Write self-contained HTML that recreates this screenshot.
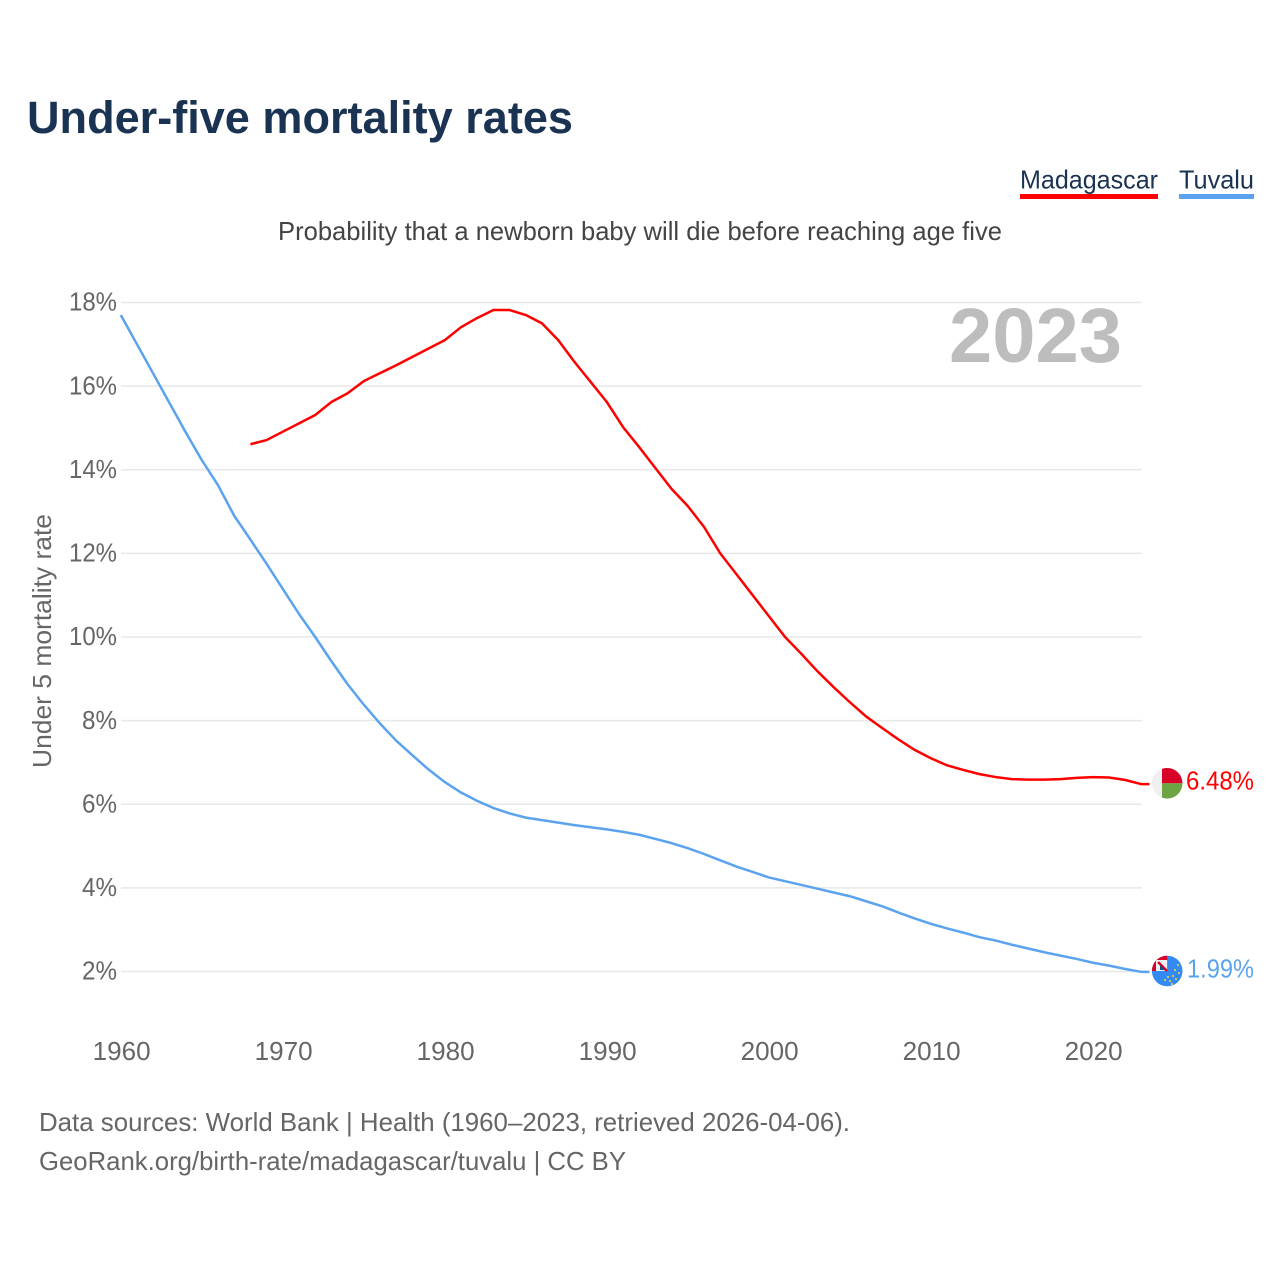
<!DOCTYPE html>
<html lang="en">
<head>
<meta charset="utf-8">
<title>Under-five mortality rates</title>
<style>
html,body{margin:0;padding:0;background:#fff;width:1280px;height:1280px;overflow:hidden}
svg{display:block}
text{font-family:"Liberation Sans",sans-serif}
</style>
</head>
<body>
<svg id="chart" xmlns="http://www.w3.org/2000/svg" width="1280" height="1280" viewBox="0 0 1280 1280">
  <defs>
    <clipPath id="clip-mg"><circle cx="1167.2" cy="783.3" r="15.3"/></clipPath>
    <clipPath id="clip-tv"><circle cx="1167.2" cy="971" r="15.3"/></clipPath>
  </defs>
  <rect width="1280" height="1280" fill="#fff"/>
  <text x="27" y="133" font-size="45" font-weight="700" fill="#1a3353" textLength="546" lengthAdjust="spacingAndGlyphs">Under-five mortality rates</text>

  <g>
    <text x="1020" y="188.5" font-size="25.6" fill="#1a3353" textLength="138" lengthAdjust="spacingAndGlyphs">Madagascar</text>
    <rect x="1020" y="194" width="138" height="5" fill="#ff0000"/>
  </g>
  <g>
    <text x="1179" y="188.5" font-size="25.6" fill="#1a3353" textLength="75" lengthAdjust="spacingAndGlyphs">Tuvalu</text>
    <rect x="1179" y="194" width="75" height="5" fill="#5ba3ee"/>
  </g>

  <text x="278" y="240" font-size="25.6" fill="#444" textLength="724" lengthAdjust="spacingAndGlyphs">Probability that a newborn baby will die before reaching age five</text>

  <g id="grid"></g>
  <g id="yticks"></g>
  <g id="xticks"></g>

  <text transform="translate(51 768) rotate(-90)" font-size="25.6" fill="#666" textLength="254" lengthAdjust="spacingAndGlyphs">Under 5 mortality rate</text>

  <text x="1122" y="362" text-anchor="end" font-size="77" font-weight="700" fill="#bdbdbd" textLength="173" lengthAdjust="spacingAndGlyphs">2023</text>

  <g id="series"></g>

  <g clip-path="url(#clip-mg)">
    <rect x="1150" y="766" width="17" height="35" fill="#f0f0f0"/>
    <rect x="1162" y="766" width="22" height="17.3" fill="#d80027"/>
    <rect x="1162" y="783.3" width="22" height="18" fill="#6da544"/>
  </g>

  <g clip-path="url(#clip-tv)">
    <rect x="1150" y="954" width="34" height="34" fill="#338af3"/>
    <rect x="1152" y="955" width="15.2" height="16" fill="#d80027"/>
    <rect x="1156" y="960" width="11.2" height="11" fill="#f0f0f0"/>
    <path d="M1158 962 L1167 971" stroke="#d80027" stroke-width="2.5"/>
    <path d="M1160 965 L1165 970 L1160 970Z" fill="#1a4a8a"/>
    <g fill="#ffda44">
      <circle cx="1178" cy="965" r="1"/><circle cx="1175" cy="970" r="1"/><circle cx="1179" cy="973" r="1"/>
      <circle cx="1173" cy="976" r="1"/><circle cx="1176" cy="979" r="1"/><circle cx="1170" cy="981" r="1"/>
      <circle cx="1168" cy="977" r="1"/><circle cx="1172" cy="984" r="1"/><circle cx="1165" cy="980" r="1"/>
    </g>
  </g>

  <text x="1254" y="789.5" text-anchor="end" font-size="25.6" fill="#ff0000" textLength="68" lengthAdjust="spacingAndGlyphs">6.48%</text>
  <text x="1254" y="977.5" text-anchor="end" font-size="25.6" fill="#5ba3ee" textLength="67" lengthAdjust="spacingAndGlyphs">1.99%</text>

  <text x="39" y="1131" font-size="25.6" fill="#666" textLength="811" lengthAdjust="spacingAndGlyphs">Data sources: World Bank | Health (1960–2023, retrieved 2026-04-06).</text>
  <text x="39" y="1170" font-size="25.6" fill="#666" textLength="587" lengthAdjust="spacingAndGlyphs">GeoRank.org/birth-rate/madagascar/tuvalu | CC BY</text>
</svg>
<script>
const yTickValues = [2, 4, 6, 8, 10, 12, 14, 16, 18];
const xTickYears = [1960, 1970, 1980, 1990, 2000, 2010, 2020];
const madagascarStartYear = 1968;
const madagascarValues = [14.61, 14.71, 14.91, 15.11, 15.31, 15.62, 15.83, 16.12, 16.31, 16.5, 16.7, 16.9, 17.1, 17.41, 17.63, 17.82, 17.82, 17.7, 17.5, 17.1, 16.58, 16.1, 15.62, 15.02, 14.54, 14.04, 13.54, 13.13, 12.63, 12.0, 11.5, 11.0, 10.5, 10.0, 9.6, 9.18, 8.8, 8.44, 8.1, 7.82, 7.55, 7.3, 7.1, 6.93, 6.82, 6.72, 6.65, 6.6, 6.59, 6.59, 6.6, 6.63, 6.65, 6.64, 6.58, 6.48];
const tuvaluStartYear = 1960;
const tuvaluValues = [17.7, 17.0, 16.3, 15.6, 14.9, 14.23, 13.63, 12.9, 12.33, 11.75, 11.15, 10.55, 10.0, 9.42, 8.87, 8.38, 7.93, 7.52, 7.17, 6.83, 6.53, 6.28, 6.08, 5.91, 5.78, 5.68, 5.62, 5.56, 5.5, 5.45, 5.4, 5.34, 5.27, 5.17, 5.07, 4.95, 4.81, 4.66, 4.51, 4.38, 4.25, 4.16, 4.07, 3.98, 3.89, 3.8, 3.68, 3.56, 3.41, 3.27, 3.14, 3.03, 2.93, 2.82, 2.74, 2.64, 2.55, 2.46, 2.38, 2.3, 2.21, 2.14, 2.06, 1.99];

const NS = 'http://www.w3.org/2000/svg';
function xScale(year) { return 120.8 + (year - 1960) * (1141.5 - 120.8) / 63; }
function yScale(value) { return 971.5 - (value - 2) * (971.5 - 302.5) / 16; }

const grid = document.getElementById('grid');
const yticks = document.getElementById('yticks');
yTickValues.forEach(function (v) {
  const line = document.createElementNS(NS, 'line');
  line.setAttribute('x1', 121);
  line.setAttribute('x2', 1142);
  line.setAttribute('y1', yScale(v));
  line.setAttribute('y2', yScale(v));
  line.setAttribute('stroke', '#e8e8e8');
  line.setAttribute('stroke-width', '1.4');
  
  
  grid.appendChild(line);
  const t = document.createElementNS(NS, 'text');
  const label = v + '%';
  t.textContent = label;
  t.setAttribute('x', 117);
  t.setAttribute('y', yScale(v) + 8.2);
  t.setAttribute('text-anchor', 'end');
  t.setAttribute('font-size', '25.6');
  t.setAttribute('fill', '#666');
  t.setAttribute('textLength', label.length === 3 ? 48 : 35);
  t.setAttribute('lengthAdjust', 'spacingAndGlyphs');
  
  
  yticks.appendChild(t);
});

const xticks = document.getElementById('xticks');
xTickYears.forEach(function (year) {
  const t = document.createElementNS(NS, 'text');
  t.textContent = String(year);
  t.setAttribute('x', xScale(year) + 0.8);
  t.setAttribute('y', 1060);
  t.setAttribute('text-anchor', 'middle');
  t.setAttribute('font-size', '25.6');
  t.setAttribute('fill', '#666');
  t.setAttribute('textLength', 58);
  t.setAttribute('lengthAdjust', 'spacingAndGlyphs');
  
  
  xticks.appendChild(t);
});

const seriesGroup = document.getElementById('series');
function linePath(values, startYear) {
  return values.map(function (v, i) {
    return (i ? 'L' : 'M') + xScale(startYear + i).toFixed(2) + ' ' + yScale(v).toFixed(2);
  }).join(' ');
}

const madagascarLine = document.createElementNS(NS, 'path');
madagascarLine.setAttribute('d', linePath(madagascarValues, madagascarStartYear) + ' h8');
madagascarLine.setAttribute('fill', 'none');
madagascarLine.setAttribute('stroke', '#ff0000');
madagascarLine.setAttribute('stroke-width', '2.5');
madagascarLine.setAttribute('stroke-linejoin', 'round');


seriesGroup.appendChild(madagascarLine);

const tuvaluLine = document.createElementNS(NS, 'path');
tuvaluLine.setAttribute('d', linePath(tuvaluValues, tuvaluStartYear) + ' h8');
tuvaluLine.setAttribute('fill', 'none');
tuvaluLine.setAttribute('stroke', '#5ba3ee');
tuvaluLine.setAttribute('stroke-width', '2.5');
tuvaluLine.setAttribute('stroke-linejoin', 'round');


seriesGroup.appendChild(tuvaluLine);
</script>
</body>
</html>
